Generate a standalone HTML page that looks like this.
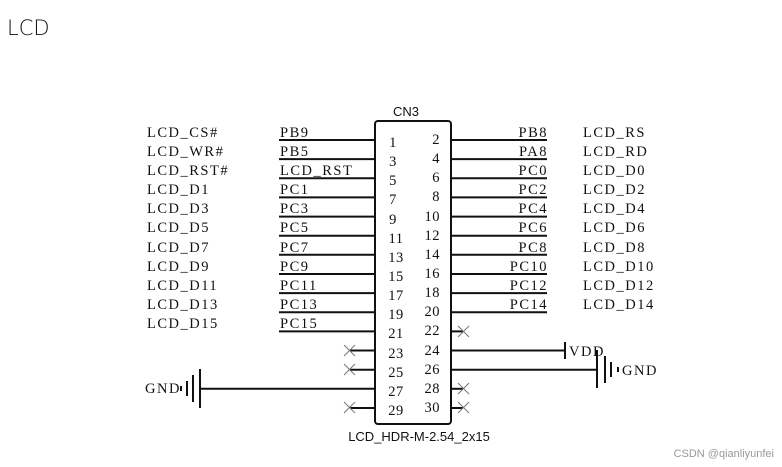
<!DOCTYPE html>
<html><head><meta charset="utf-8"><style>
html,body{margin:0;padding:0;background:#fff;width:782px;height:467px;overflow:hidden}
svg{display:block}
.s{font-family:"Liberation Serif",serif;font-size:14.5px;fill:#111;letter-spacing:1.5px}
.n{font-family:"Liberation Serif",serif;font-size:14.5px;fill:#111;letter-spacing:0.5px}
.a{font-family:"Liberation Sans",sans-serif;font-size:13px;fill:#111}
</style></head><body>
<svg width="782" height="467" viewBox="0 0 782 467" xmlns="http://www.w3.org/2000/svg">
<text x="7" y="35" style="font-family:'DejaVu Sans',sans-serif;font-size:21px;fill:#111;font-weight:300">LCD</text>
<text x="393" y="116" class="a">CN3</text>
<rect x="375" y="121" width="76" height="303" rx="3" fill="none" stroke="#111" stroke-width="2"/>
<text x="419" y="441" class="a" text-anchor="middle">LCD_HDR-M-2.54_2x15</text>
<g stroke="#111" stroke-width="2">
<line x1="279" y1="140" x2="375" y2="140"/><line x1="279" y1="159.1" x2="375" y2="159.1"/>
<line x1="279" y1="178.3" x2="375" y2="178.3"/><line x1="279" y1="197.4" x2="375" y2="197.4"/>
<line x1="279" y1="216.6" x2="375" y2="216.6"/><line x1="279" y1="235.7" x2="375" y2="235.7"/>
<line x1="279" y1="254.8" x2="375" y2="254.8"/><line x1="279" y1="274" x2="375" y2="274"/>
<line x1="279" y1="293.1" x2="375" y2="293.1"/><line x1="279" y1="312.3" x2="375" y2="312.3"/>
<line x1="279" y1="331.4" x2="375" y2="331.4"/>
<line x1="350" y1="350.5" x2="375" y2="350.5"/><line x1="350" y1="369.7" x2="375" y2="369.7"/>
<line x1="200" y1="388.8" x2="375" y2="388.8"/><line x1="350" y1="408" x2="375" y2="408"/>
<line x1="451" y1="140" x2="547" y2="140"/><line x1="451" y1="159.1" x2="547" y2="159.1"/>
<line x1="451" y1="178.3" x2="547" y2="178.3"/><line x1="451" y1="197.4" x2="547" y2="197.4"/>
<line x1="451" y1="216.6" x2="547" y2="216.6"/><line x1="451" y1="235.7" x2="547" y2="235.7"/>
<line x1="451" y1="254.8" x2="547" y2="254.8"/><line x1="451" y1="274" x2="547" y2="274"/>
<line x1="451" y1="293.1" x2="547" y2="293.1"/><line x1="451" y1="312.3" x2="547" y2="312.3"/>
<line x1="451" y1="331.4" x2="463" y2="331.4"/>
<line x1="451" y1="350.5" x2="565" y2="350.5"/><line x1="565" y1="342" x2="565" y2="359"/>
<line x1="451" y1="369.7" x2="597" y2="369.7"/>
<line x1="597" y1="350" x2="597" y2="388"/><line x1="605" y1="356" x2="605" y2="383"/><line x1="611" y1="362" x2="611" y2="377"/>
<line x1="618" y1="367" x2="618" y2="372"/>
<line x1="451" y1="388.8" x2="463" y2="388.8"/><line x1="451" y1="408" x2="463" y2="408"/>
<line x1="200" y1="369" x2="200" y2="408"/><line x1="193" y1="375" x2="193" y2="402"/><line x1="187" y1="381" x2="187" y2="396"/>
<line x1="181" y1="386" x2="181" y2="391"/>
</g>
<g stroke="#777" stroke-width="1">
<path d="M344 345l11 11M355 345l-11 11M344 364l11 11M355 364l-11 11M344 402l11 11M355 402l-11 11"/>
<path d="M458 326l11 11M469 326l-11 11M458 383l11 11M469 383l-11 11M458 402l11 11M469 402l-11 11"/>
</g>
<text x="569" y="356" class="s">VDD</text>
<text x="622" y="375" class="s">GND</text>
<text x="145" y="393" class="s">GND</text>
<g class="s">
<text x="147" y="137">LCD_CS#</text><text x="147" y="156">LCD_WR#</text><text x="147" y="175">LCD_RST#</text>
<text x="147" y="194">LCD_D1</text><text x="147" y="213">LCD_D3</text><text x="147" y="232">LCD_D5</text>
<text x="147" y="252">LCD_D7</text><text x="147" y="271">LCD_D9</text><text x="147" y="290">LCD_D11</text>
<text x="147" y="309">LCD_D13</text><text x="147" y="328">LCD_D15</text>
<text x="280" y="137">PB9</text><text x="280" y="156">PB5</text><text x="280" y="175">LCD_RST</text>
<text x="280" y="194">PC1</text><text x="280" y="213">PC3</text><text x="280" y="232">PC5</text>
<text x="280" y="252">PC7</text><text x="280" y="271">PC9</text><text x="280" y="290">PC11</text>
<text x="280" y="309">PC13</text><text x="280" y="328">PC15</text>
</g>
<g class="s" text-anchor="end">
<text x="548" y="137">PB8</text><text x="548" y="156">PA8</text><text x="548" y="175">PC0</text>
<text x="548" y="194">PC2</text><text x="548" y="213">PC4</text><text x="548" y="232">PC6</text>
<text x="548" y="252">PC8</text><text x="548" y="271">PC10</text><text x="548" y="290">PC12</text>
<text x="548" y="309">PC14</text>
</g>
<g class="s">
<text x="583" y="137">LCD_RS</text><text x="583" y="156">LCD_RD</text><text x="583" y="175">LCD_D0</text>
<text x="583" y="194">LCD_D2</text><text x="583" y="213">LCD_D4</text><text x="583" y="232">LCD_D6</text>
<text x="583" y="252">LCD_D8</text><text x="583" y="271">LCD_D10</text><text x="583" y="290">LCD_D12</text>
<text x="583" y="309">LCD_D14</text>
</g>
<g class="n" text-anchor="middle">
<text x="393" y="147">1</text><text x="393" y="166">3</text><text x="393" y="185">5</text><text x="393" y="204">7</text>
<text x="393" y="224">9</text><text x="396" y="243">11</text><text x="396" y="262">13</text><text x="396" y="281">15</text>
<text x="396" y="300">17</text><text x="396" y="319">19</text><text x="396" y="338">21</text><text x="396" y="358">23</text>
<text x="396" y="377">25</text><text x="396" y="396">27</text><text x="396" y="415">29</text>
</g>
<g class="n" text-anchor="end">
<text x="440" y="144">2</text><text x="440" y="163">4</text><text x="440" y="182">6</text><text x="440" y="201">8</text>
<text x="440" y="221">10</text><text x="440" y="240">12</text><text x="440" y="259">14</text><text x="440" y="278">16</text>
<text x="440" y="297">18</text><text x="440" y="316">20</text><text x="440" y="335">22</text><text x="440" y="355">24</text>
<text x="440" y="374">26</text><text x="440" y="393">28</text><text x="440" y="412">30</text>
</g>
<text x="774" y="457" text-anchor="end" style="font-family:'Liberation Sans',sans-serif;font-size:11px;fill:#999">CSDN @qianliyunfei</text>
</svg>
</body></html>
